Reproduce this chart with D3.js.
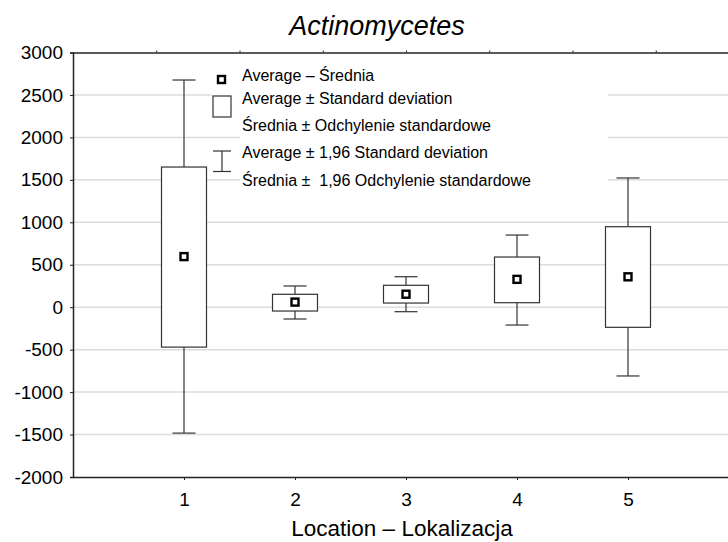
<!DOCTYPE html>
<html>
<head>
<meta charset="utf-8">
<script src="https://cdn.jsdelivr.net/npm/d3@7"></script>
<style>
  body { margin: 0; background: #fff; }
  svg { display: block; font-family: "Liberation Sans", Arial, sans-serif; }
  .leg { white-space: pre; }
</style>
</head>
<body>
<div id="chart"></div>
<script>
// values
const locations = [1, 2, 3, 4, 5];
const means = [596, 60, 153, 328, 358];
const boxHigh = [1651, 152, 258, 591, 948];
const boxLow = [-470, -45, 49, 53, -237];
const whiskerHigh = [2676, 250, 359, 850, 1522];
const whiskerLow = [-1483, -139, -53, -210, -810];
const yTicks = [3000, 2500, 2000, 1500, 1000, 500, 0, -500, -1000, -1500, -2000];
const legendTexts = [
    "Average \u2013 \u015arednia",
    "Average \u00b1 Standard deviation",
    "\u015arednia \u00b1 Odchylenie standardowe",
    "Average \u00b1 1,96 Standard deviation",
    "\u015arednia \u00b1  1,96 Odchylenie standardowe"
];

const W = 728, H = 542;
const mLeft = 73, mRight = 739, mTop = 52.5, mBottom = 477;

const svg = d3.select("#chart").append("svg")
    .attr("width", W)
    .attr("height", H);

const x = d3.scaleLinear().domain([0, 6]).range([mLeft, mRight]);
const y = d3.scaleLinear().domain([-2000, 3000]).range([mBottom, mTop]);

// grid
svg.append("g")
    .selectAll("line")
    .data(yTicks.filter(d => d > -2000 && d < 3000))
    .join("line")
    .attr("x1", mLeft).attr("x2", mRight)
    .attr("y1", d => y(d)).attr("y2", d => y(d))
    .attr("stroke", "#dcdcdc")
    .attr("stroke-width", 1.5);

// legend backgrounds hide the grid behind it
svg.append("rect").attr("x", 212).attr("y", 62).attr("width", 396).attr("height", 58).attr("fill", "#fff");
svg.append("rect").attr("x", 240).attr("y", 120).attr("width", 368).attr("height", 72).attr("fill", "#fff");

// axes
const yAxis = svg.append("g")
    .attr("transform", `translate(${mLeft},0)`)
    .call(d3.axisLeft(y).tickValues(yTicks).tickSize(3).tickFormat(d => String(d)));
yAxis.select(".domain").attr("stroke", "#222").attr("stroke-width", 1.5);
yAxis.selectAll(".tick line").attr("stroke", "#222");
yAxis.selectAll(".tick text")
    .attr("x", -10)
    .attr("font-size", 19)
    .attr("font-family", "Liberation Sans, Arial, sans-serif")
    .attr("fill", "#000");

const xAxis = svg.append("g")
    .attr("transform", `translate(0,${mBottom})`)
    .call(d3.axisBottom(x).tickValues(locations).tickSize(3).tickSizeOuter(0).tickFormat(d => String(d)));
xAxis.select(".domain").attr("stroke", "#222").attr("stroke-width", 1.5);
xAxis.selectAll(".tick line").attr("stroke", "#222");
xAxis.selectAll(".tick text")
    .attr("y", 16)
    .attr("font-size", 19)
    .attr("font-family", "Liberation Sans, Arial, sans-serif")
    .attr("fill", "#000");

const topAxis = svg.append("g")
    .attr("transform", `translate(0,${mTop})`)
    .call(d3.axisTop(x).tickValues(d3.range(0.75, 6, 0.75)).tickSize(2).tickSizeOuter(0).tickFormat(""));
topAxis.select(".domain").attr("stroke", "#222").attr("stroke-width", 1.5);
topAxis.selectAll(".tick line").attr("stroke", "#222");

// boxes
const boxW = 45, capW = 23;
const g = svg.append("g");
locations.forEach((loc, i) => {
    const cx = x(loc);
    g.append("line")
        .attr("x1", cx).attr("x2", cx)
        .attr("y1", y(whiskerHigh[i])).attr("y2", y(boxHigh[i]))
        .attr("stroke", "#333").attr("stroke-width", 1.2);
    g.append("line")
        .attr("x1", cx).attr("x2", cx)
        .attr("y1", y(boxLow[i])).attr("y2", y(whiskerLow[i]))
        .attr("stroke", "#333").attr("stroke-width", 1.2);
    [whiskerHigh[i], whiskerLow[i]].forEach(v => {
        g.append("line")
            .attr("x1", cx - capW / 2).attr("x2", cx + capW / 2)
            .attr("y1", y(v)).attr("y2", y(v))
            .attr("stroke", "#333").attr("stroke-width", 1.2);
    });
    g.append("rect")
        .attr("x", cx - boxW / 2).attr("width", boxW)
        .attr("y", y(boxHigh[i])).attr("height", y(boxLow[i]) - y(boxHigh[i]))
        .attr("fill", "#fff").attr("stroke", "#333").attr("stroke-width", 1.2);
    g.append("rect")
        .attr("x", cx - 3.5).attr("y", y(means[i]) - 3.5)
        .attr("width", 7).attr("height", 7)
        .attr("fill", "#fff").attr("stroke", "#000").attr("stroke-width", 2.4);
});

// legend
const lg = svg.append("g");
lg.append("rect").attr("x", 218).attr("y", 76).attr("width", 7).attr("height", 7)
    .attr("fill", "#fff").attr("stroke", "#000").attr("stroke-width", 2.4);
lg.append("rect").attr("x", 213).attr("y", 96).attr("width", 18).attr("height", 21)
    .attr("fill", "#fff").attr("stroke", "#333").attr("stroke-width", 1.2);
lg.append("line").attr("x1", 222).attr("x2", 222).attr("y1", 151).attr("y2", 171.5)
    .attr("stroke", "#333").attr("stroke-width", 1.2);
[151, 171.5].forEach(v => {
    lg.append("line").attr("x1", 213).attr("x2", 231).attr("y1", v).attr("y2", v)
        .attr("stroke", "#333").attr("stroke-width", 1.2);
});
const legendY = [81, 103.5, 131, 158, 186];
lg.selectAll("text.leg")
    .data(legendTexts)
    .join("text")
    .attr("class", "leg")
    .attr("x", 242)
    .attr("y", (d, i) => legendY[i])
    .attr("font-size", 16)
    .attr("fill", "#000")
    .text(d => d);

// title and axis label
svg.append("text")
    .attr("x", 377).attr("y", 35)
    .attr("text-anchor", "middle")
    .attr("font-size", 27)
    .attr("font-style", "italic")
    .attr("fill", "#000")
    .text("Actinomycetes");

svg.append("text")
    .attr("x", 402).attr("y", 536)
    .attr("text-anchor", "middle")
    .attr("font-size", 22.5)
    .attr("fill", "#000")
    .text("Location \u2013 Lokalizacja");
</script>
</body>
</html>
